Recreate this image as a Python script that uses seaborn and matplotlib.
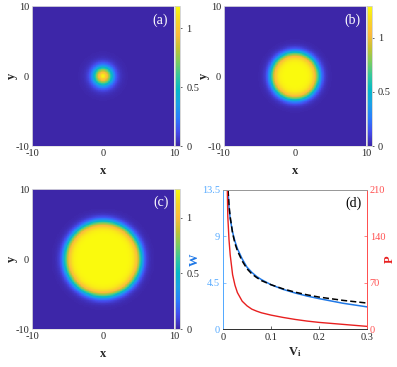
import numpy as np
import pandas as pd
import matplotlib
matplotlib.use("Agg")
import matplotlib.pyplot as plt
import seaborn as sns
from matplotlib.colors import LinearSegmentedColormap

# --- panel (a)-(c): flat-top intensity profiles ---
panel_tags = ["(a)", "(b)", "(c)"]
peak_amp = [1.19, 1.29, 1.26]        # colour-bar tops
plateau_radius = [1.0, 3.3, 5.3]     # radius where the edge is half height
edge_width = [0.45, 0.35, 0.36]
cbar_ticks = [0, 0.5, 1]
xy_ticks = [-10, 0, 10]

# --- panel (d): curves ---
vi_w = [0.0105, 0.0125, 0.015, 0.02, 0.025, 0.03, 0.04, 0.05, 0.06, 0.07,
        0.08, 0.1, 0.125, 0.15, 0.175, 0.2, 0.25, 0.3]
w_num = [13.5, 11.8, 10.7, 9.4, 8.5, 7.8, 6.8, 6.0, 5.5, 5.1,
         4.8, 4.3, 3.85, 3.5, 3.2, 2.95, 2.5, 2.15]
w_approx = [13.5, 12.0, 10.9, 9.3, 8.3, 7.6, 6.6, 5.85, 5.35, 5.0,
            4.7, 4.3, 3.9, 3.58, 3.32, 3.1, 2.78, 2.52]
vi_p = [0.009, 0.01, 0.0125, 0.015, 0.02, 0.025, 0.03, 0.04, 0.05, 0.06,
        0.07, 0.08, 0.1, 0.125, 0.15, 0.175, 0.2, 0.25, 0.3]
p_vals = [210, 170, 135, 112, 82, 66, 55, 42, 35, 30,
          27, 24.5, 21, 17.5, 14.5, 12, 10, 7, 4]

sns.set_style("ticks")
plt.rcParams['font.family'] = ['Liberation Serif', 'DejaVu Serif']
plt.rcParams['mathtext.fontset'] = 'stix'
plt.rcParams['xtick.direction'] = 'in'
plt.rcParams['ytick.direction'] = 'in'
fs = 7.5

# parula-like colormap (MATLAB default)
parula = LinearSegmentedColormap.from_list(
    "parula", [(0.24, 0.15, 0.66), (0.27, 0.30, 0.93), (0.17, 0.49, 0.99),
               (0.11, 0.63, 0.90), (0.02, 0.72, 0.78), (0.20, 0.78, 0.62),
               (0.48, 0.80, 0.38), (0.77, 0.76, 0.20), (0.99, 0.73, 0.24),
               (0.97, 0.84, 0.15), (0.98, 0.98, 0.05)])

fig = plt.figure(figsize=(3.97, 3.67), dpi=100)

N = 201
grid = np.linspace(-10, 10, N)
X, Y = np.meshgrid(grid, grid[::-1])
R = np.sqrt(X**2 + Y**2)

boxes = [(0.0806, 0.602), (0.564, 0.602), (0.0806, 0.1035)]
cb_left = [0.4408, 0.924, 0.4408]
for i in range(3):
    ax = fig.add_axes([boxes[i][0], boxes[i][1], 0.3577, 0.3815])
    cax = fig.add_axes([cb_left[i], boxes[i][1], 0.0126, 0.3815])
    A, R0, d = peak_amp[i], plateau_radius[i], edge_width[i]
    field = A * (1 + np.exp(-R0 / d)) / (1 + np.exp((R - R0) / d))
    sns.heatmap(field, ax=ax, cmap=parula, vmin=0, vmax=A, cbar_ax=cax,
                xticklabels=False, yticklabels=False, rasterized=True)
    ax.set_xticks([0, N / 2, N])
    ax.set_xticklabels(xy_ticks, fontsize=fs)
    ax.set_yticks([N, N / 2, 0])
    ax.set_yticklabels(xy_ticks, fontsize=fs, rotation=0)
    ax.tick_params(length=0, pad=2)
    for s in ax.spines.values():
        s.set_visible(True)
        s.set_color("#e0e0e0")
        s.set_linewidth(0.6)
    ax.set_xlabel("x", fontsize=9, fontweight="bold", labelpad=5)
    ax.set_ylabel("y", fontsize=9, fontweight="bold", labelpad=-2, rotation=90)
    ax.text(0.96, 0.95, panel_tags[i], transform=ax.transAxes, color="white",
            fontsize=10, ha="right", va="top")
    cb = ax.collections[0].colorbar
    cb.set_ticks(cbar_ticks)
    cb.set_ticklabels(["0", "0.5", "1"])
    cb.ax.tick_params(labelsize=fs, length=1.5, width=0.5, direction="out", pad=3)
    cb.outline.set_edgecolor("#d0d0d0")
    cb.outline.set_linewidth(0.6)

# --- panel (d) ---
blue = "#1f78e6"
lblue = "#55aaff"
red = "#e82020"
lred = "#ff5050"
ax = fig.add_axes([0.5617, 0.1035, 0.3627, 0.379])
ax2 = ax.twinx()
sns.lineplot(x=vi_w, y=w_num, ax=ax, color=blue, lw=1.1)
sns.lineplot(x=vi_w, y=w_approx, ax=ax, color="black", lw=1.1, linestyle=(0, (4, 2)))
sns.lineplot(x=vi_p, y=p_vals, ax=ax2, color=red, lw=1.0)
ax.set_xlim(0, 0.3)
ax.set_ylim(0, 13.5)
ax2.set_ylim(0, 210)
ax.set_xticks([0, 0.1, 0.2, 0.3])
ax.set_xticklabels(["0", "0.1", "0.2", "0.3"], fontsize=fs)
ax.set_yticks([0, 4.5, 9, 13.5])
ax.set_yticklabels(["0", "4.5", "9", "13.5"], fontsize=fs, color=lblue)
ax2.set_yticks([0, 70, 140, 210])
ax2.set_yticklabels(["0", "70", "140", "210"], fontsize=fs, color=lred)
ax.tick_params(length=2, width=0.5, pad=3)
ax2.tick_params(length=2, width=0.5, pad=2, colors=lred)
ax.tick_params(axis="y", colors=lblue, pad=2)
for a in (ax, ax2):
    a.spines["left"].set_color(lblue)
    a.spines["right"].set_color(lred)
    a.spines["top"].set_color("#999999")
    a.spines["bottom"].set_color("#333333")
    for s in a.spines.values():
        s.set_linewidth(0.7)
        s.set_visible(True)
ax.set_xlabel(r"V$_\mathregular{i}$", fontsize=9, fontweight="bold", labelpad=2)
ax.set_ylabel("W", fontsize=9, fontweight="bold", color=blue, labelpad=1)
ax2.set_ylabel("P", fontsize=9, fontweight="bold", color=red, labelpad=-1)
ax.text(0.96, 0.95, "(d)", transform=ax.transAxes, color="black",
        fontsize=10, ha="right", va="top")

fig.savefig("out.png", dpi=100)
